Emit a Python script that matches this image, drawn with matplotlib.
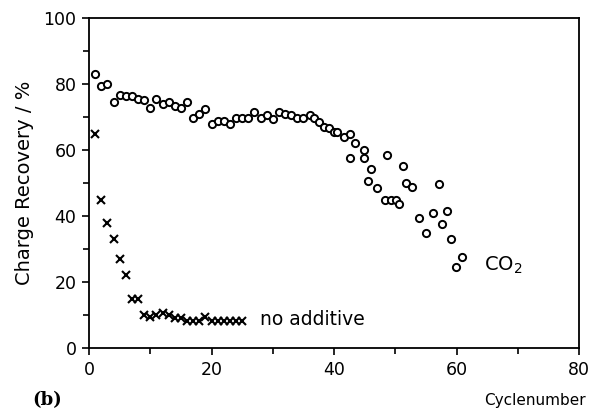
import matplotlib

matplotlib.use("Agg")
import matplotlib.pyplot as plt
from matplotlib.ticker import MultipleLocator

# CO2 additive, open circles (cycle number, charge recovery %)
co2_cycle = [1, 2, 3, 4, 5, 6, 7, 8, 9, 10, 11, 12, 13, 14, 15, 16, 17, 18, 19, 20,
             21, 22, 23, 24, 25, 26, 27, 28, 29, 30, 31, 32, 33,
             33.9, 34.9, 36.0, 36.8, 37.6, 38.3, 39.2, 40.0, 40.5, 41.6, 42.6, 42.6,
             43.5, 44.9, 44.9, 45.5, 46.1, 47.0, 48.4, 48.6, 49.3, 50.1, 50.6, 51.2,
             51.8, 52.7, 53.8, 55.0, 56.1, 57.1, 57.7, 58.5, 59.1, 59.9, 60.9]
co2_recovery = [83, 79.4, 79.9, 74.4, 76.7, 76.5, 76.5, 75.4, 75.2, 72.8, 75.5, 74, 74.6,
                73.2, 72.8, 74.7, 69.8, 70.9, 72.5, 68, 68.8, 68.7, 68, 69.8, 69.8, 69.6,
                71.6, 69.8, 70.5, 69.5, 71.6, 70.9, 70.6,
                69.6, 69.6, 70.6, 69.6, 68.6, 67, 66.7, 65.5, 65.5, 64, 64.8, 57.5,
                62.2, 60, 57.5, 50.6, 54.2, 48.6, 45, 58.5, 45, 45, 43.5, 55.3,
                49.9, 48.9, 39.3, 35, 41, 49.8, 37.6, 41.5, 32.9, 24.6, 27.7]

# no additive, crosses
ref_cycle = list(range(1, 26))
ref_recovery = [65, 45, 38, 33, 27, 22, 15, 15, 10, 9.3, 10, 10.5, 10, 9, 9,
                8.3, 8.3, 8.3, 9.5, 8.3, 8.3, 8.3, 8.3, 8.3, 8.3]

plt.rcParams["font.family"] = ["DejaVu Sans"]

fig = plt.figure(figsize=(5.91, 4.15), dpi=100)
ax = fig.add_axes([0.1506, 0.1614, 0.8291, 0.7952])

ax.plot(co2_cycle, co2_recovery, linestyle="none", marker="o", markersize=5.2,
        markerfacecolor="white", markeredgecolor="black", markeredgewidth=1.4)
ax.plot(ref_cycle, ref_recovery, linestyle="none", marker="x", markersize=5.3,
        color="black", markeredgewidth=1.5)

ax.text(64.5, 25, "CO$_2$", fontsize=14, va="center", ha="left")
ax.text(27.9, 8.5, "no additive", fontsize=13.5, va="center", ha="left")

ax.set_xlim(0, 80)
ax.set_ylim(0, 100)
ax.xaxis.set_major_locator(MultipleLocator(20))
ax.xaxis.set_minor_locator(MultipleLocator(10))
ax.yaxis.set_major_locator(MultipleLocator(20))
ax.yaxis.set_minor_locator(MultipleLocator(10))
ax.tick_params(which="both", direction="out", width=1.2, labelsize=12.5)
ax.tick_params(which="major", length=5, pad=4)
ax.tick_params(which="minor", length=4)
for side in ax.spines.values():
    side.set_linewidth(1.3)

ax.set_ylabel("Charge Recovery / %", fontsize=14, labelpad=7)

fig.text(32 / 591, 1 - 400 / 415, "(b)", fontsize=13, fontweight="bold",
         family="DejaVu Serif", va="center", ha="left")
fig.text(586 / 591, 1 - 400 / 415, "Cyclenumber", fontsize=11, va="center", ha="right")

fig.savefig("out.png")
plt.close(fig)
